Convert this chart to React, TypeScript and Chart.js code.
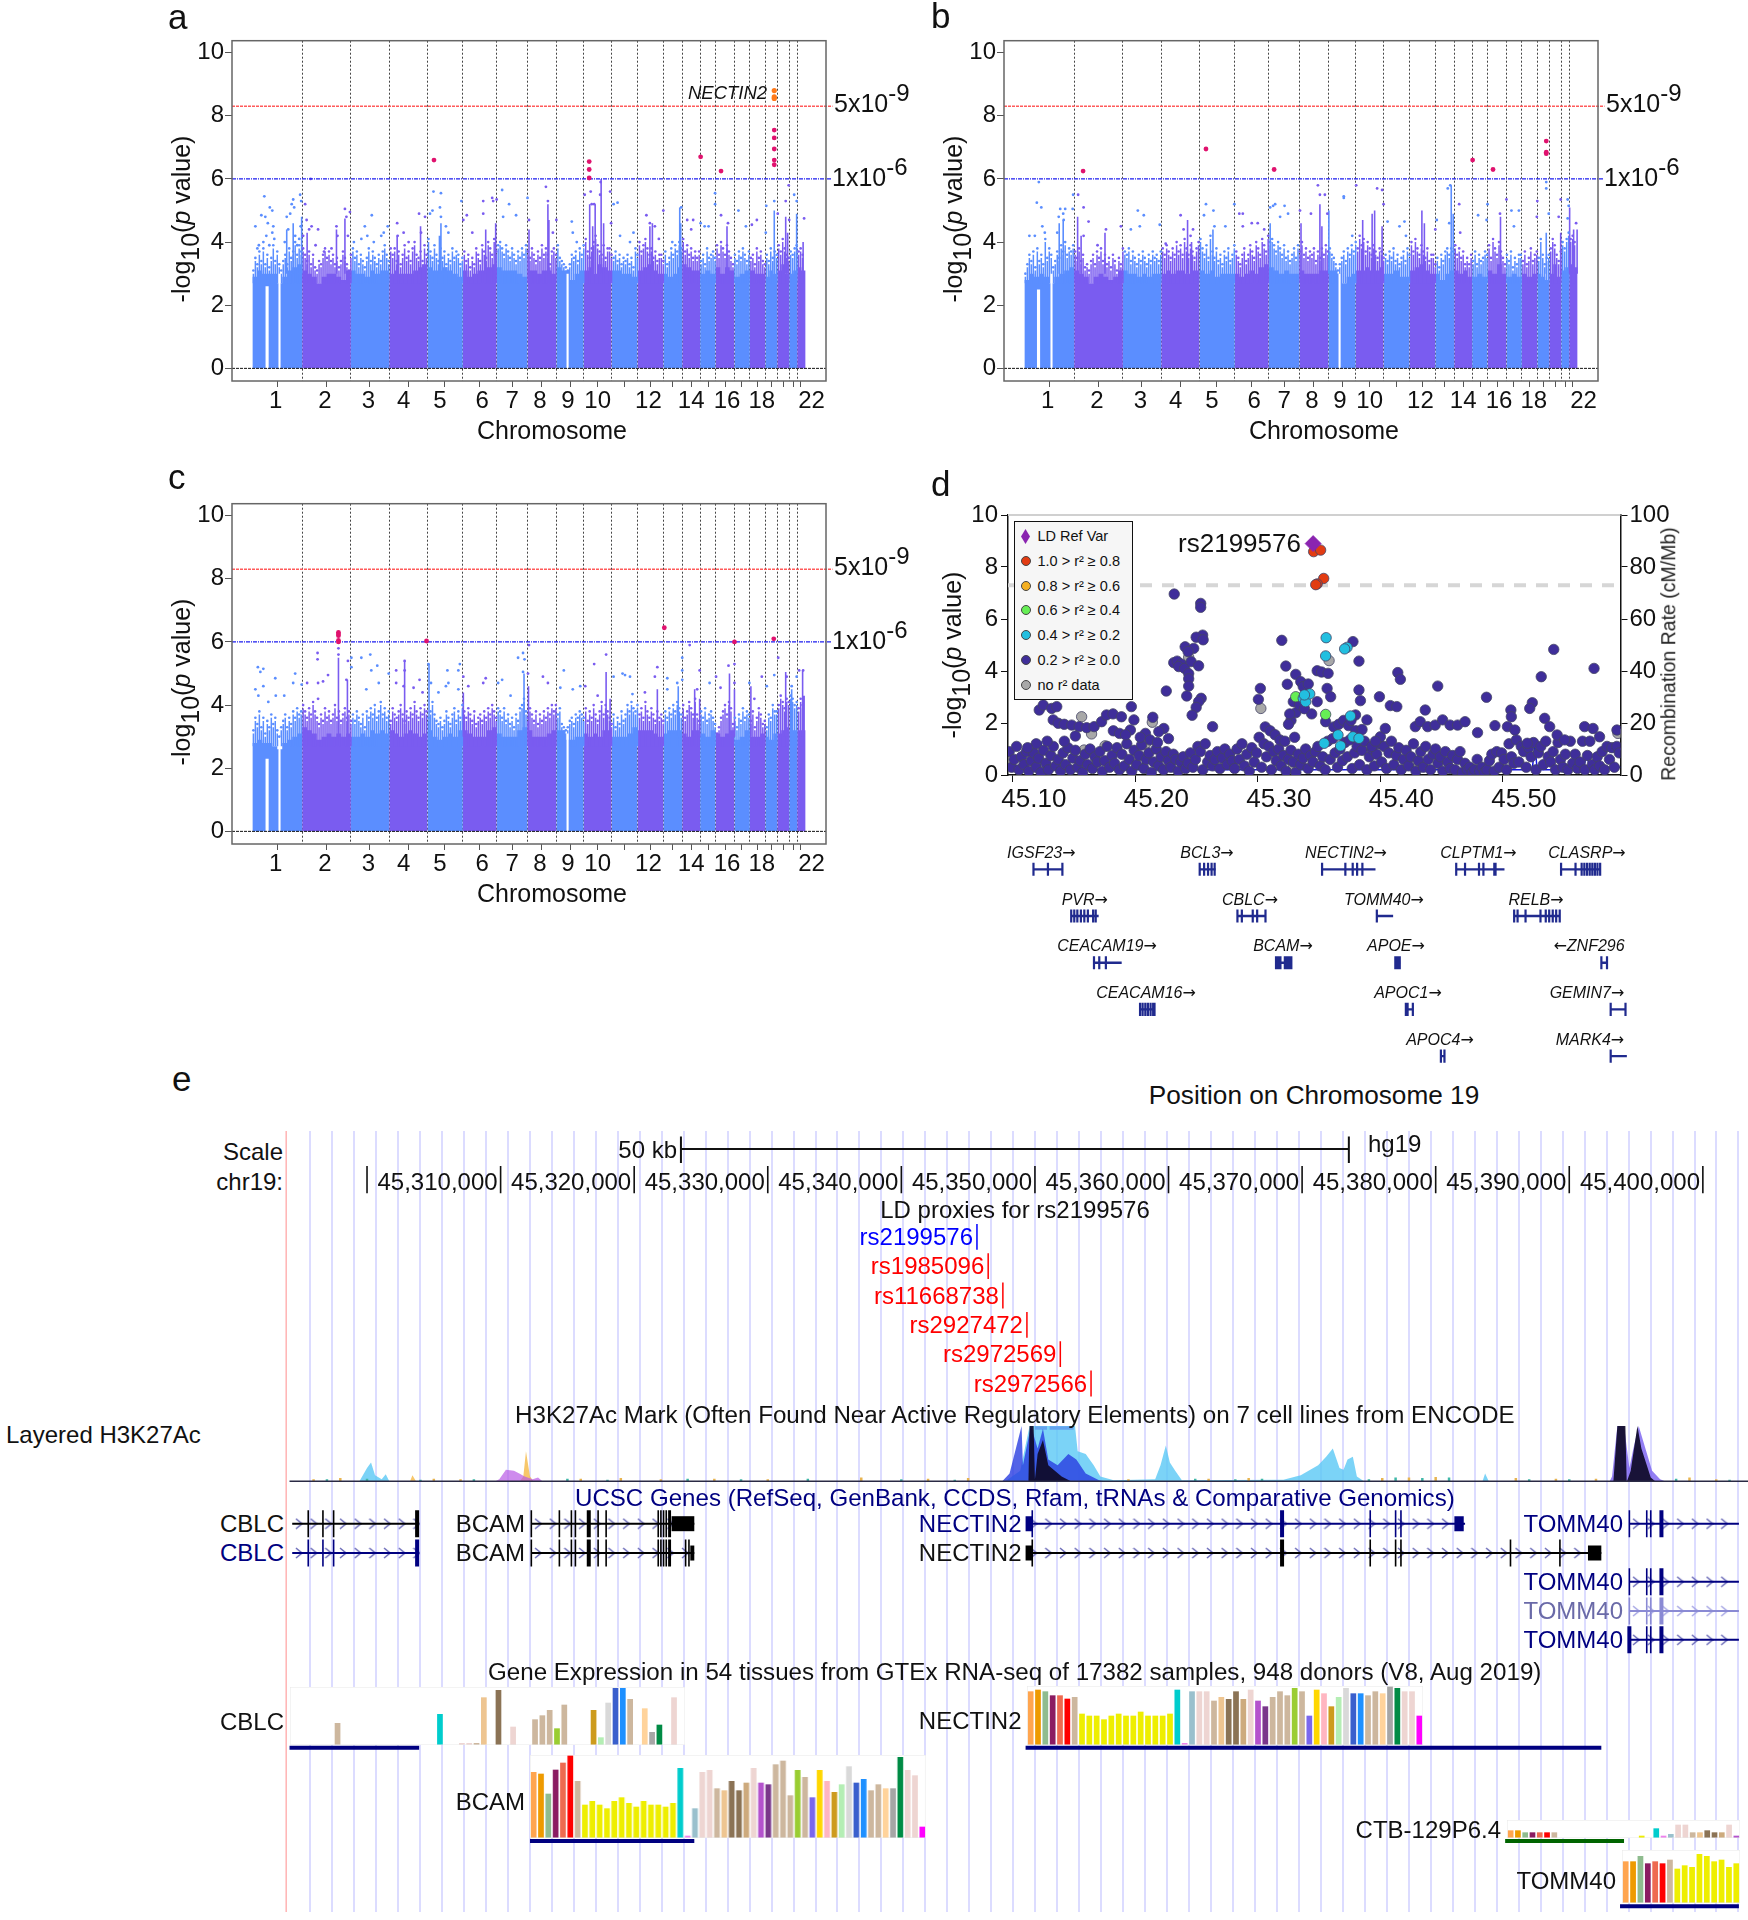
import React, { useEffect, useRef } from "react";
import { Chart, registerables } from "chart.js";
Chart.register(...registerables);

const FONT = "'Liberation Sans', Arial, sans-serif";
const BLUE = "#5b8eff";
const PURPLE = "#7a5cf0";
const PINK = "#e0126e";
const ORANGE = "#ff7a1a";

// ---------- Manhattan panels: x = genome bin (about 2.6 Mb each) ----------
const chromEnds = [286, 384, 461, 538, 609, 677, 739, 797, 852, 908, 960, 1012, 1050, 1086, 1117, 1155, 1186, 1217, 1241, 1265, 1281, 1298];
const chromStart = 186;
const tickBins = [237, 335, 422, 500, 573, 643, 708, 768, 825, 880, 934, 986, 1031, 1068, 1102, 1136, 1170, 1201, 1229, 1253, 1273, 1288];
const labelBins = [233, 332, 419, 490, 563, 648, 708, 764, 820, 880, 982, 1068, 1140, 1210, 1310];
const chromLabels = ["1", "2", "3", "4", "5", "6", "7", "8", "9", "10", "12", "14", "16", "18", "22"];
const yTicks = [0, 2, 4, 6, 8, 10];

const aFill = [
  [2.9, 3.1, 3.0, 3.0, 3.0, 2.7, 2.9, 3.1, 3.2, 3.3], [3.1, 3.0, 2.9, 2.7, 2.9, 3.0, 3.0, 2.9, 2.8, 3.1], [3.1, 3.0, 3.0, 2.9, 3.1, 3.0, 3.1, 3.1],
  [3.0, 3.1, 3.0, 3.0, 3.0, 3.1, 3.2, 3.3], [3.2, 3.1, 3.1, 3.2, 3.1, 3.0, 2.9], [3.1, 2.9, 3.0, 3.1, 3.1, 3.2, 3.3], [3.2, 3.1, 3.1, 3.1, 3.0, 2.9],
  [3.1, 3.1, 3.0, 3.1, 3.1, 3.0], [3.2, 3.1, 3.1, 2.8, 3.0, 3.1], [3.1, 3.2, 3.0, 3.3, 3.2, 3.1], [3.1, 3.1, 3.0, 3.0, 2.9], [3.1, 3.2, 3.3, 3.1, 3.0],
  [3.0, 2.9, 3.0, 3.2], [3.3, 3.2, 3.1, 3.1], [3.0, 3.1, 3.0], [3.2, 3.0, 3.2, 3.1], [2.9, 3.0, 3.1], [3.1, 3.0, 3.0], [2.9, 3.1, 3.0], [3.1, 3.3, 3.0], [3.0, 3.1], [3.2, 3.1],
];
const aSpeck = [31, 35, 33, 37, 34, 38, 33, 36, 32, 35, 39, 34, 37, 33, 31, 34, 36, 33, 38, 35, 37, 40, 36, 39, 37,
  38, 36, 34, 37, 33, 36, 32, 31, 34, 33, 36, 38, 35, 37, 34, 36, 33, 35, 32, 34, 37, 35, 33, 31, 36,
  38, 35, 37, 33, 36, 34, 32, 35, 38, 34, 37, 35, 33, 36, 34, 37, 39, 36, 34, 38,
  36, 38, 34, 37, 33, 36, 39, 35, 37, 34, 38, 40, 36, 35, 37, 34, 39, 36, 41,
  37, 35, 39, 36, 34, 38, 35, 37, 33, 36, 34, 38, 35, 37, 36, 33, 35,
  37, 34, 36, 32, 35, 33, 38, 36, 34, 39, 37, 35, 40, 38, 36, 41, 37, 39,
  40, 38, 36, 39, 37, 35, 38, 36, 34, 37, 35, 38, 36,
  39, 37, 35, 38, 36, 34, 37, 35, 39, 36, 38, 36, 33, 37,
  38, 36, 39, 35, 34, 33, 32, 31, 33, 36, 35, 37, 34, 38,
  36, 39, 41, 37, 35, 38, 40, 42, 39, 37, 36, 39, 35, 38,
  38, 36, 35, 37, 34, 36, 33, 35, 34, 36, 33, 35, 32,
  38, 36, 40, 37, 39, 41, 38, 36, 38, 35, 37, 34, 36,
  36, 34, 37, 33, 35, 38, 36, 39, 37,
  40, 38, 41, 37, 39, 36, 38, 35, 37,
  35, 37, 34, 36, 33, 38, 35, 36,
  37, 35, 39, 36, 40, 38, 36, 39, 37, 35,
  33, 36, 34, 37, 35, 38, 36, 34,
  37, 35, 36, 33, 38, 35, 37, 34,
  33, 36, 34, 38, 35, 37,
  36, 39, 37, 41, 38, 36,
  35, 37, 36, 38,
  39, 37, 38, 36];
const aStems = [[255, 4.4], [268, 4.6], [285, 4.8], [296, 4.3], [355, 4.4], [372, 4.75], [477, 4.2], [524, 4.5], [565, 4.6], [562, 4.2], [655, 4.4], [675, 4.6], [742, 4.4], [780, 5.2], [782, 4.7], [864, 5.2], [870, 4.5], [875, 5.2], [887, 6.0], [892, 4.6], [1045, 5.1], [1047, 4.6], [990, 4.6], [985, 4.5], [1140, 4.5], [1235, 5.0], [1258, 4.8], [1280, 4.9], [1293, 4.0], [1262, 4.3]];
const aDots = [[192, 4.5], [196, 3.8], [199, 3.9], [204, 4.85], [208, 4.0], [210, 5.45], [212, 4.8], [214, 4.2], [217, 4.6], [221, 5.1], [226, 5.0], [228, 4.5], [230, 4.1], [226, 4.3], [220, 3.9], [251, 4.0], [255, 4.8], [258, 4.4], [262, 4.9], [265, 5.2], [268, 5.35], [270, 5.1], [272, 4.2], [276, 3.9], [282, 5.5], [284, 5.3], [283, 4.5], [280, 4.1], [288, 4.2], [292, 5.2], [295, 4.7], [300, 4.4], [303, 6.0], [305, 4.5], [318, 4.4], [313, 3.9], [330, 3.7], [345, 3.8], [355, 4.5], [357, 4.2], [372, 5.05], [375, 4.8], [382, 4.95], [378, 4.2], [390, 4.0], [405, 4.1], [412, 4.5], [417, 4.2], [426, 4.85], [430, 4.0], [445, 4.2], [458, 4.5], [450, 4.3], [477, 4.6], [478, 4.2], [490, 4.3], [500, 4.0], [521, 4.9], [525, 4.3], [533, 4.8], [543, 4.9], [548, 5.0], [550, 5.6], [565, 5.55], [563, 5.1], [565, 4.8], [575, 4.5], [580, 4.3], [606, 5.3], [610, 4.7], [617, 4.85], [628, 4.3], [650, 5.3], [650, 4.9], [668, 5.4], [670, 5.3], [677, 5.35], [688, 5.65], [702, 5.2], [690, 4.8], [716, 4.85], [739, 5.4], [742, 4.7], [776, 5.75], [780, 5.3], [790, 4.3], [797, 4.7], [828, 4.65], [830, 4.3], [838, 4.0], [854, 5.5], [866, 5.6], [868, 5.2], [873, 5.2], [885, 5.5], [886, 5.9], [905, 5.6], [912, 5.2], [920, 5.25], [907, 4.6], [925, 4.2], [945, 4.0], [952, 4.3], [978, 4.85], [985, 4.6], [995, 4.5], [1012, 5.0], [1003, 4.1], [1030, 4.0], [1048, 5.1], [1060, 4.7], [1072, 4.7], [1068, 4.4], [1087, 4.6], [1095, 4.5], [1103, 4.5], [1116, 5.55], [1116, 5.2], [1128, 4.85], [1142, 4.6], [1163, 5.0], [1178, 4.5], [1190, 4.55], [1200, 4.7], [1219, 5.15], [1218, 4.3], [1235, 5.3], [1242, 4.9], [1258, 5.3], [1264, 5.8], [1265, 4.7], [1275, 5.5], [1280, 5.3], [1295, 4.75]];
const aHits = [[551, 6.6], [863, 6.55], [863, 6.3], [863, 6.03], [1087, 6.7], [1128, 6.25], [1235, 7.55], [1235, 7.3], [1235, 6.95], [1235, 6.6], [1235, 6.45]];
const aTop = [[1235, 8.8], [1235, 8.6], [1235, 8.55]];
const aGaps = [[212, 219, 2.6], [238, 243, 3.0], [817, 822, 3.0]];

const bFill = [
  [2.8, 3.0, 2.9, 3.0, 2.9, 2.7, 2.9, 3.0, 3.1, 3.2], [3.1, 3.0, 2.9, 2.7, 2.9, 3.0, 2.9, 2.8, 2.9, 3.1], [3.1, 3.0, 3.0, 2.9, 3.0, 2.9, 3.0, 3.0],
  [3.0, 3.1, 3.0, 3.1, 3.1, 3.0, 3.1, 3.1], [3.1, 3.0, 3.1, 2.9, 3.0, 3.0, 3.0], [3.0, 2.9, 3.0, 3.1, 3.0, 3.2, 3.3], [3.2, 3.1, 3.0, 3.1, 3.0, 3.0],
  [3.1, 3.0, 3.0, 3.0, 3.1, 3.1], [3.1, 3.1, 3.0, 2.7, 2.9, 3.0], [3.1, 3.1, 3.2, 3.1, 3.1, 3.2], [3.0, 3.0, 3.1, 2.9, 2.9], [3.1, 3.2, 3.3, 3.1, 3.0],
  [3.0, 2.8, 3.0, 3.1], [3.1, 3.0, 3.1, 2.9], [2.9, 3.0, 2.9], [3.1, 3.0, 3.3, 3.0], [2.9, 3.0, 2.9], [3.0, 2.9, 3.0], [3.0, 2.9, 2.8], [3.0, 3.3, 2.9], [3.1, 3.2], [3.3, 3.2],
];
const bSpeck = [30, 33, 36, 34, 37, 32, 38, 34, 36, 33, 41, 35, 38, 36, 32, 34, 37, 35, 39, 37, 40, 36, 38, 37, 39,
  37, 35, 38, 34, 36, 32, 33, 31, 34, 36, 33, 37, 35, 38, 34, 36, 33, 35, 32, 36, 34, 31, 35, 33, 38,
  37, 36, 38, 34, 37, 35, 33, 36, 34, 37, 35, 33, 36, 34, 37, 35, 36, 34, 37, 38,
  36, 39, 37, 35, 38, 36, 40, 37, 39, 36, 41, 38, 36, 39, 37, 35, 38, 40, 41,
  38, 36, 39, 35, 42, 37, 35, 38, 34, 36, 33, 37, 35, 38, 34, 36, 39,
  37, 35, 33, 36, 38, 34, 36, 39, 37, 35, 40, 38, 36, 41, 39, 37, 42, 40,
  41, 39, 37, 40, 38, 36, 39, 35, 37, 34, 36, 38, 35,
  39, 37, 40, 36, 38, 35, 37, 36, 38, 34, 37, 35, 38, 36,
  39, 37, 38, 36, 35, 33, 31, 33, 35, 37, 34, 38, 36, 39,
  37, 40, 38, 42, 39, 41, 37, 40, 38, 36, 39, 37, 35, 38,
  37, 35, 36, 34, 37, 35, 38, 34, 36, 33, 35, 37, 34,
  38, 36, 40, 37, 41, 38, 36, 39, 37, 35, 38, 34, 36,
  36, 33, 35, 32, 36, 34, 37, 38, 36,
  38, 37, 39, 36, 38, 35, 37, 33, 35,
  33, 36, 34, 37, 33, 36, 34, 35,
  37, 36, 39, 35, 41, 38, 36, 40, 37, 35,
  33, 36, 34, 37, 32, 35, 33, 36,
  36, 34, 37, 33, 35, 38, 34, 36,
  37, 35, 41, 36, 33, 35,
  36, 38, 41, 39, 36, 34,
  37, 40, 38, 41,
  43, 41, 42, 40];
const bStems = [[256, 4.6], [264, 4.7], [293, 4.8], [300, 4.2], [348, 4.3], [514, 4.7], [522, 4.0], [565, 4.4], [680, 4.6], [742, 4.6], [780, 5.2], [784, 4.5], [798, 5.0], [866, 4.7], [885, 4.9], [890, 5.0], [905, 4.5], [985, 5.0], [990, 4.6], [1044, 5.8], [1048, 4.9], [1143, 4.8], [1235, 4.3], [1264, 4.3], [1282, 5.1], [1290, 4.4], [1297, 4.4]];
const bDots = [[215, 5.9], [211, 5.25], [220, 5.1], [196, 4.2], [207, 4.2], [222, 4.5], [227, 4.3], [255, 4.8], [258, 5.05], [264, 4.9], [268, 5.05], [252, 4.3], [265, 4.7], [284, 5.5], [294, 5.5], [283, 5.05], [305, 5.1], [315, 4.65], [305, 4.2], [350, 4.4], [333, 3.9], [380, 4.5], [400, 4.4], [414, 5.0], [426, 4.85], [418, 4.5], [458, 4.55], [470, 3.95], [500, 4.85], [506, 4.4], [520, 4.2], [525, 4.4], [547, 4.85], [551, 5.2], [566, 5.0], [568, 4.5], [590, 4.5], [608, 5.2], [618, 4.9], [625, 4.9], [625, 4.5], [643, 4.6], [655, 4.6], [668, 4.4], [680, 5.1], [686, 5.15], [690, 5.2], [700, 4.8], [709, 5.15], [716, 4.9], [740, 5.0], [762, 4.9], [776, 5.8], [780, 5.5], [790, 5.5], [795, 4.9], [828, 5.4], [828, 5.45], [845, 4.2], [853, 5.8], [895, 5.7], [905, 5.65], [908, 5.2], [916, 4.65], [940, 4.5], [950, 4.65], [953, 4.2], [1012, 4.4], [1015, 4.7], [1037, 5.7], [1042, 5.8], [1060, 5.2], [1040, 4.6], [1062, 4.3], [1098, 4.85], [1117, 5.2], [1115, 4.7], [1155, 5.35], [1142, 4.9], [1165, 5.0], [1180, 5.0], [1170, 4.5], [1217, 5.3], [1216, 4.8], [1235, 5.9], [1235, 5.7], [1240, 4.9], [1264, 5.35], [1260, 4.8], [1278, 5.35], [1280, 5.15], [1278, 4.75], [1295, 4.6]];
const bHits = [[551, 6.95], [304, 6.25], [688, 6.3], [1087, 6.6], [1128, 6.3], [1235, 7.2], [1235, 6.85], [1235, 6.8]];
const bGaps = [[211, 218, 2.5], [238, 243, 3.0], [817, 822, 3.0]];

const cFill = [
  [2.8, 2.9, 2.8, 2.8, 2.7, 2.6, 2.8, 2.9, 3.0, 3.1], [3.3, 3.2, 3.1, 2.9, 3.0, 3.1, 3.0, 3.1, 3.0, 3.1], [3.0, 3.0, 3.1, 3.0, 3.2, 3.1, 3.2, 3.1],
  [3.2, 3.1, 3.0, 3.1, 3.2, 3.1, 3.0, 3.1], [3.2, 3.0, 2.9, 3.0, 3.1, 3.0, 3.2], [3.2, 3.1, 3.0, 3.0, 3.0, 3.2, 3.3], [3.1, 3.0, 3.0, 3.0, 3.2, 3.3],
  [3.2, 3.0, 3.0, 3.0, 3.1, 3.2], [3.2, 3.2, 2.9, 2.9, 3.0, 3.0], [3.1, 3.0, 3.1, 3.0, 3.2, 3.2], [3.0, 3.0, 3.0, 3.1, 3.3], [3.2, 3.2, 3.2, 3.1, 3.0],
  [3.1, 3.2, 3.2, 3.2], [3.1, 3.0, 3.2, 3.2], [3.1, 3.0, 3.2], [3.1, 3.0, 3.1, 3.2], [2.9, 3.0, 3.2], [3.0, 3.0, 3.1], [3.0, 2.9, 3.1], [3.1, 3.2, 3.3], [3.2, 3.2], [3.2, 3.2]];
const cSpeck = [32, 36, 34, 38, 33, 36, 31, 35, 33, 37, 34, 36, 32, 30, 33, 35, 37, 33, 36, 34, 38, 36, 39, 37, 38,
  40, 38, 36, 39, 37, 41, 38, 36, 34, 37, 35, 39, 36, 38, 35, 37, 40, 36, 38, 35, 37, 39, 36, 38, 35,
  37, 35, 38, 36, 34, 37, 33, 38, 36, 39, 37, 40, 36, 38, 41, 37, 39, 36, 38, 35,
  39, 37, 36, 38, 40, 37, 35, 38, 36, 39, 37, 41, 38, 36, 39, 37, 40, 38, 36,
  38, 41, 37, 35, 34, 36, 33, 35, 38, 36, 34, 37, 39, 35, 38, 36, 40,
  38, 36, 39, 37, 35, 38, 34, 36, 37, 35, 38, 36, 39, 37, 40, 38, 36, 39,
  38, 36, 39, 35, 37, 34, 36, 33, 37, 35, 39, 40, 42,
  38, 36, 39, 37, 35, 38, 34, 37, 35, 38, 36, 39, 37, 40,
  38, 40, 37, 39, 34, 33, 32, 33, 35, 36, 34, 37, 36, 38,
  37, 36, 39, 35, 38, 36, 40, 37, 35, 38, 41, 37, 40, 38,
  36, 34, 37, 33, 36, 34, 38, 35, 37, 40, 38, 41, 39,
  38, 40, 37, 39, 36, 41, 38, 36, 39, 37, 35, 38, 36,
  37, 35, 38, 36, 39, 37, 40, 38, 41,
  39, 37, 40, 36, 38, 41, 39, 37, 42,
  37, 35, 38, 36, 39, 35, 37, 38,
  36, 34, 31, 33, 36, 38, 40, 37, 41, 39,
  34, 36, 33, 37, 35, 39, 36, 38,
  37, 35, 38, 33, 36, 39, 37, 34,
  35, 33, 37, 36, 40, 38,
  38, 40, 43, 41, 39, 42,
  41, 43, 42, 40,
  41, 39, 42, 40];
const cStems = [[359, 5.5], [377, 4.8], [492, 5.4], [541, 5.3], [610, 4.4], [732, 5.0], [741, 4.6], [897, 5.05], [905, 4.2], [1000, 4.5], [1042, 4.6], [1075, 4.5], [1145, 5.0], [1155, 4.5], [1188, 4.6], [1258, 5.05], [1270, 4.5], [1292, 5.1], [1295, 4.3], [1085, 4.2]];
const cDots = [[192, 4.5], [197, 5.2], [202, 5.05], [208, 5.15], [208, 4.6], [198, 4.3], [218, 4.1], [232, 4.85], [233, 4.3], [250, 4.3], [268, 4.7], [272, 5.0], [285, 4.65], [296, 4.7], [317, 5.65], [317, 5.45], [318, 4.7], [328, 4.75], [338, 4.95], [318, 4.2], [359, 5.8], [359, 5.6], [375, 4.8], [378, 5.4], [385, 5.5], [385, 5.2], [405, 5.5], [423, 5.6], [425, 5.1], [437, 5.25], [440, 4.7], [415, 4.5], [460, 5.0], [475, 5.1], [475, 4.7], [492, 5.4], [492, 5.1], [490, 4.6], [510, 4.55], [522, 4.8], [528, 4.4], [540, 5.3], [545, 4.7], [560, 4.4], [575, 4.6], [578, 5.1], [580, 4.7], [600, 5.1], [603, 5.3], [600, 4.5], [610, 4.9], [620, 4.6], [650, 4.7], [655, 4.85], [680, 4.7], [688, 4.8], [705, 4.3], [720, 5.5], [730, 5.65], [733, 5.45], [730, 5.05], [740, 5.0], [742, 5.9], [770, 4.9], [780, 4.7], [805, 4.55], [812, 5.1], [830, 4.5], [845, 4.6], [855, 4.6], [873, 5.3], [880, 4.3], [897, 5.6], [912, 4.9], [930, 5.0], [935, 4.95], [945, 4.9], [950, 4.35], [975, 4.4], [1000, 5.2], [995, 4.9], [1020, 4.5], [1020, 4.85], [1040, 4.7], [1050, 5.5], [1050, 5.1], [1065, 5.9], [1050, 4.8], [1085, 5.1], [1080, 4.5], [1105, 4.7], [1118, 4.9], [1127, 4.55], [1143, 5.25], [1155, 5.3], [1155, 4.7], [1185, 4.7], [1195, 4.2], [1210, 4.9], [1220, 4.6], [1243, 5.5], [1235, 4.95], [1260, 4.9], [1280, 4.9], [1285, 5.1], [1293, 5.1], [1270, 4.6]];
const cHits = [[359, 6.3], [359, 6.25], [359, 6.2], [359, 6.05], [359, 6.0], [536, 6.03], [1014, 6.45], [1155, 6.0], [1234, 6.1]];
const cGaps = [[212, 219, 2.3], [238, 243, 3.0], [817, 822, 3.1]];

// ---------- Panel d: x = kb beyond 45.0 Mb ----------
const dTicksKb = [100, 200, 300, 400, 500];
const dLeft = [0, 2, 4, 6, 8, 10];
const dRight = [0, 20, 40, 60, 80, 100];
const dRef = [[345.1, 8.9]];
const dRed = [[345.5, 8.59], [351.2, 8.65], [353.7, 7.56], [348.4, 7.35], [347.2, 7.32]];
const dGreen = [[330.9, 3.01], [355.3, 2.33]];
const dCyan = [[355.7, 5.28], [355.3, 4.58], [372.8, 4.91], [370.8, 4.85], [337, 2.95], [339, 2.82], [342.3, 3.12], [338, 3.08], [354.1, 1.22], [367.5, 1.12], [365.4, 1.54], [377.6, 1.47], [382.5, 1.41], [375.6, 2.27]];
const dGray = [[358.1, 4.4], [302.4, 2.56], [156.1, 2.24], [164.2, 1.58], [158.1, 0.96], [175.2, 1.12], [213.8, 2.03], [208.1, 1.19], [243.5, 4.53], [431.3, 0.38], [593.9, 1.6], [328.9, 0.32]];
const dUpper = [[231.7, 6.96], [253.3, 6.6], [253.3, 6.45], [254.9, 5.38], [249.6, 5.3], [255.3, 5.2], [240.6, 4.93], [247.6, 4.87], [243, 4.75], [231.3, 4.32], [234.1, 4.38], [237.4, 4.27], [235.4, 4.17], [240.2, 4.1], [245.5, 4.36], [251.6, 4.2], [243.5, 3.9], [243.5, 3.7], [243.5, 3.42], [225.2, 3.23], [241.9, 3.04], [253.7, 2.95], [251.6, 2.82], [249.6, 2.6], [246.3, 2.3], [263, 1.86], [319.5, 5.18], [322.8, 4.19], [330.9, 3.87], [324, 3.49], [302, 3.33], [300.4, 2.91], [335, 3.59], [337, 3.4], [341.1, 3.5], [328.9, 2.82], [348.4, 4.01], [352, 3.96], [357.3, 3.91], [356.5, 3.33], [359.4, 3.01], [348.4, 2.82], [343.9, 2.35], [355.3, 2.05], [377.6, 5.13], [382.5, 4.38], [382.5, 3.27], [383.7, 2.86], [399.2, 3.01], [408.1, 2.67], [413.4, 2.63], [414.2, 3.94], [416.3, 3.68], [446.8, 3.42], [486.6, 2.99], [524, 2.78], [531.3, 3.78], [541.5, 4.83], [574.4, 4.1], [521.9, 2.56], [506.5, 2.5], [436.6, 2.5], [379.7, 2.31], [389, 2.12], [121.5, 2.5], [124.8, 2.69], [131.7, 2.56], [135.8, 2.63], [132.9, 2.12], [137, 1.99], [141.9, 1.95], [148, 1.92], [154.1, 1.86], [160.2, 1.82], [166.3, 1.86], [172.4, 2.05], [176.4, 2.31], [181.7, 2.35], [188.6, 2.24], [196.7, 2.63], [198.8, 2.12], [214.2, 2.22], [223.2, 1.79], [219.1, 1.67], [208.2, 1.6], [195.9, 1.73], [400, 1.47], [404, 1.79], [428.5, 1.86], [432.5, 2.05], [438.6, 1.86], [444.7, 1.92], [450.8, 2.12], [456.9, 1.92], [463, 1.92], [469.1, 2.05], [479.3, 1.63], [493.5, 1.9], [503.7, 1.86], [509.8, 1.73], [506.9, 2.24], [519.9, 1.22], [534.1, 2.18], [538.2, 1.86], [544.3, 1.54], [550.4, 1.35], [566.7, 1.86], [573.6, 1.79], [578.9, 1.47], [593.1, 1.73], [327, 2.1], [331, 2.4], [326, 2.35], [325, 1.95], [334, 2.7], [338, 2.55], [306, 1.85], [310, 1.7], [314, 1.55], [318, 1.35], [322, 1.3], [330, 1.45], [362, 1.85], [366, 1.95], [370, 2.1], [374, 1.9], [376, 2.1], [380, 1.7], [385, 1.75], [393, 1.1], [396, 1.3], [151, 1.5], [142, 1.3], [128, 1.3], [119, 1.2], [112, 1.05], [182, 1.7], [187, 1.6], [192, 1.55], [204, 1.45], [212, 1.35], [227, 1.4], [218, 1.25]];
const dLow = [[97, .9], [99, .3], [101, .6], [103, 1.1], [105, .2], [107, .7], [109, .4], [111, .9], [113, .15], [115, .55], [117, .85], [119, .3], [121, .65], [123, .1], [125, .95], [127, .45], [129, .2], [131, .75], [133, 1.1], [135, .35], [137, .6], [139, .15], [141, .85], [143, .4], [145, 1.05], [147, .2], [149, .65], [151, .95], [153, .3], [155, .55], [157, .1], [159, .8], [161, .4], [163, 1.0], [165, .25], [167, .7], [169, .5], [171, .9], [173, .15], [175, .55], [177, 1.1], [179, .3], [181, .75], [183, .45], [185, 1.05], [187, .2], [189, .8], [191, .35], [193, 1.2], [195, .6], [197, .15], [199, .95], [201, .4], [203, .75], [205, 1.15], [207, .25], [209, .6], [211, .85], [213, .1], [215, .5], [217, 1.0], [219, .35], [221, .7], [223, .2], [225, .9], [227, .55], [229, .3], [231, .8], [233, .6], [235, .15], [237, .5], [239, .7], [241, .25], [243, .45], [245, .85], [247, .3], [249, .6], [251, 1.1], [253, .9], [255, .2], [257, 1.2], [259, .5], [261, .75], [263, .35], [265, .6], [267, .9], [269, .25], [271, .65], [273, 1.0], [275, .4], [277, .8], [279, .55], [281, .25], [283, 1.0], [285, .6], [287, 1.2], [289, .35], [291, .8], [293, .15], [295, 1.05], [297, .5], [299, .85], [301, 1.45], [303, .3], [305, 1.2], [307, .7], [309, 1.1], [311, .2], [313, .9], [315, .55], [317, 1.0], [319, .35], [321, .75], [323, .15], [325, .6], [327, .95], [329, .5], [331, .1], [333, .8], [335, .4], [337, .65], [339, 1.0], [341, .25], [343, .75], [345, .5], [347, .9], [349, 1.1], [351, .35], [353, .7], [355, .2], [357, 1.3], [359, .6], [361, 1.4], [363, .85], [365, .3], [367, 1.0], [369, .55], [371, 1.25], [373, .7], [375, 1.35], [377, .25], [379, .85], [381, 1.1], [383, .4], [385, .95], [387, 1.3], [389, .2], [391, .7], [393, 1.0], [395, .35], [397, .8], [399, 1.2], [401, .5], [403, 1.1], [405, .25], [407, .85], [409, 1.3], [411, .4], [413, .75], [415, 1.05], [417, .2], [419, .6], [421, .95], [423, .35], [425, .7], [427, 1.2], [429, .15], [431, .55], [433, .9], [435, .3], [437, 1.1], [439, .6], [441, .2], [443, .8], [445, 1.0], [447, .45], [449, .7], [451, .15], [453, .9], [455, .5], [457, .25], [459, .75], [461, .2], [463, .6], [465, .9], [467, .1], [469, .45], [471, .2], [473, .3], [475, .1], [477, .2], [479, .6], [481, .15], [483, .3], [485, .1], [487, .2], [489, .55], [491, .8], [493, .15], [495, .9], [497, .3], [499, .85], [501, .6], [503, .2], [505, 1.2], [507, .7], [509, .45], [511, 1.35], [513, .5], [515, 1.1], [517, .9], [519, .3], [521, 1.05], [523, .7], [525, 1.25], [527, .2], [529, .85], [531, 1.1], [533, .4], [535, 1.3], [537, .7], [539, .5], [541, .9], [543, .2], [545, 1.25], [547, .6], [549, .3], [551, .8], [553, .2], [555, 1.3], [557, .45], [559, .8], [561, .25], [563, .5], [565, 1.3], [567, .2], [569, .75], [571, 1.3], [573, .4], [575, .2], [577, .7], [579, .35], [581, .9], [583, .2], [585, 1.1], [587, .6], [589, 1.05], [591, .3], [593, 1.1], [595, .85]];
const dRecomb = [[96, 2], [122, 2], [123, 13], [125, 2], [205, 2], [206, 5], [208, 2], [300, 2], [524, 2], [526, 12], [528, 2], [566, 2], [568, 8], [571, 3], [596, 3]];

const geneTrackD = [
  { name: "IGSF23→", labelX: 1041.4, row: 0, span: [116.8, 140.4], exons: [116.8, 128.6, 140.4] },
  { name: "BCL3→", labelX: 1207, row: 0, span: [252.5, 265.4], exons: [252.5, 256.1, 259.3, 262.2, 264.7] },
  { name: "NECTIN2→", labelX: 1346, row: 0, span: [352.4, 396], exons: [352.4, 371.4, 377.4, 381, 385.3] },
  { name: "CLPTM1→", labelX: 1478.5, row: 0, span: [461.9, 501.3], exons: [461.9, 469.1, 480.5, 484.1, 493, 494] },
  { name: "CLASRP→", labelX: 1587, row: 0, span: [547.5, 580], exons: [547.5, 559.3, 564.3, 566.5, 568.7, 570.9, 573, 575.1, 577.2, 579.4] },
  { name: "PVR→", labelX: 1084.8, row: 1, span: [147.6, 170], exons: [147.6, 150.1, 152.6, 155.5, 158.3, 161.2, 165.5, 167.6] },
  { name: "CBLC→", labelX: 1250, row: 1, span: [283.3, 306.2], exons: [283.3, 286.9, 295.8, 299.4, 306.2] },
  { name: "TOMM40→", labelX: 1384, row: 1, span: [397.1, 410.4], exons: [397.1] },
  { name: "RELB→", labelX: 1536, row: 1, span: [509.2, 546.4], exons: [509.2, 512, 518.5, 530.7, 535, 537.8, 540.7, 543.5, 546.4] },
  { name: "CEACAM19→", labelX: 1107, row: 2, span: [166.2, 188.8], exons: [166.2, 170.5, 175.9] },
  { name: "BCAM→", labelX: 1283, row: 2, span: [314.8, 327.3], exons: [314.8, 316.6, 318.4, 322, 323.8, 325.5, 327.3] },
  { name: "APOE→", labelX: 1396, row: 2, span: [412.2, 416.1], exons: [412.2, 413.4, 414.6, 415.8] },
  { name: "←ZNF296", labelX: 1589, row: 2, span: [580.4, 585], exons: [580.4, 585] },
  { name: "CEACAM16→", labelX: 1146, row: 3, span: [203.8, 215.6], exons: [203.8, 205.9, 208.1, 210.2, 212.4, 214.5, 215.6] },
  { name: "APOC1→", labelX: 1408, row: 3, span: [420.8, 426.5], exons: [420.8, 422.2, 426.5] },
  { name: "GEMIN7→", labelX: 1587, row: 3, span: [588, 600.1], exons: [588, 600.1] },
  { name: "APOC4→", labelX: 1440, row: 4, span: [449.4, 452.3], exons: [449.4, 452.3] },
  { name: "MARK4→", labelX: 1590, row: 4, span: [588, 601.2], exons: [588] },
];

// ---------- Panel e: x = kb beyond 45.0 Mb ----------
const rulerKb = [300, 310, 320, 330, 340, 350, 360, 370, 380, 390, 400];
const rulerLabels = ["45,310,000", "45,320,000", "45,330,000", "45,340,000", "45,350,000", "45,360,000", "45,370,000", "45,380,000", "45,390,000", "45,400,000"];
const proxies = [
  { id: "rs2199576", kb: 345.66, color: "#0000ff" }, { id: "rs1985096", kb: 346.5, color: "#ff0000" }, { id: "rs11668738", kb: 347.6, color: "#ff0000" },
  { id: "rs2927472", kb: 349.4, color: "#ff0000" }, { id: "rs2972569", kb: 351.9, color: "#ff0000" }, { id: "rs2972566", kb: 354.2, color: "#ff0000" },
];
const NAVY = "#000080";
const TOMM_EX = [394.5, 395.8, 396.1];
const ucscGenes = [
  { row: 13.39, color: "#000000", span: [294.4, 303.9], exons: [295.6, 296.7, 297.5], thick: [303.75], blocks: [] },
  { row: 14.39, color: NAVY, span: [294.4, 303.9], exons: [295.6, 296.7, 297.5], thick: [303.75], blocks: [] },
  { row: 13.39, color: "#000000", span: [312.3, 324.5], exons: [312.3, 314.4, 315.3, 315.6, 317.3, 317.9, 321.8, 322, 322.2, 322.4, 322.6, 322.7], thick: [316.6], blocks: [[322.8, 324.5]] },
  { row: 14.39, color: "#000000", span: [312.3, 324.5], exons: [312.3, 314.4, 315.3, 315.6, 317.3, 317.9, 321.8, 322, 322.2, 322.4, 322.6, 322.7, 323.85, 324.1], thick: [316.6], blocks: [[324.2, 324.5]] },
  { row: 13.39, color: NAVY, span: [349.4, 382.2], exons: [349.8, 375.1, 377, 377.4], thick: [368.5], blocks: [[349.3, 349.8], [381.4, 382.1]] },
  { row: 14.39, color: "#000000", span: [349.4, 392.4], exons: [349.8, 375.1, 377, 377.4, 385.6, 389.3], thick: [368.5], blocks: [[349.3, 349.8], [391.4, 392.4]] },
  { row: 13.39, color: NAVY, span: [394.5, 402.7], exons: TOMM_EX, thick: [396.9], blocks: [] },
  { row: 15.37, color: NAVY, span: [394.5, 402.7], exons: TOMM_EX, thick: [396.9], blocks: [] },
  { row: 16.37, color: "#8a8ad4", span: [394.5, 402.7], exons: TOMM_EX, thick: [396.9], blocks: [] },
  { row: 17.35, color: NAVY, span: [394.5, 402.7], exons: [395.8, 396.1], thick: [394.5, 396.9], blocks: [] },
];
const geneBars = [
  { row: 21.03, kb: [294.2, 303.9], color: NAVY }, { row: 24.21, kb: [312.2, 324.5], color: NAVY }, { row: 21.03, kb: [349.3, 392.4], color: NAVY },
  { row: 24.21, kb: [385.2, 394.1], color: "#006400" }, { row: 26.43, kb: [393.8, 402.7], color: NAVY },
];

const acLightBlue = [[299.4, 0], [300, 25], [300.3, 35], [300.6, 12], [301.1, 5], [301.4, 14], [301.7, 0], [347.7, 0], [348.9, 20], [349.6, 100], [353, 100], [353.2, 55], [353.8, 50], [354.4, 30], [354.9, 10], [355.9, 3], [359, 5], [359.4, 30], [359.8, 65], [360.1, 35], [360.5, 20], [361, 3], [368.6, 4], [369.9, 12], [371.2, 30], [371.8, 45], [372.3, 60], [372.8, 25], [373.1, 22], [373.4, 40], [373.8, 45], [374.1, 10], [374.6, 2], [383.5, 1], [383.7, 15], [384, 0]];
const acBlue = [[347.5, 0], [348.1, 15], [349, 100], [349.1, 30], [349.7, 100], [350.2, 60], [350.6, 95], [351, 40], [351.7, 30], [352.5, 50], [353.1, 40], [353.8, 15], [354.8, 3], [355.5, 0]];
const acViolet = [[393, 0], [393.2, 10], [393.6, 100], [394.1, 100], [394.5, 25], [394.8, 60], [395.2, 100], [395.7, 60], [396.2, 20], [396.8, 5], [397.3, 0]];
const acBlack = [[349.5, 0], [349.6, 100], [349.9, 100], [350, 5], [350.2, 50], [350.6, 75], [351, 30], [352, 10], [352.8, 0], [393.3, 0], [393.6, 100], [394.2, 100], [394.3, 0], [394.6, 20], [395.1, 100], [395.4, 60], [396.1, 8], [396.5, 0]];
const acOrange = [[303.2, 0], [303.4, 12], [303.7, 0], [311.4, 0], [311.7, 10], [311.9, 55], [312.2, 10], [312.5, 0]];
const acMagenta = [[309.5, 0], [309.9, 5], [310.4, 22], [311, 20], [311.4, 15], [311.8, 10], [312.4, 5], [312.8, 8], [313.2, 0]];
const acBase = [[294.2, 1], [403.38, 1]];
const acSpecks = [[296, 5], [298, 7], [305, 6], [307, 5], [316, 6], [319, 7], [322, 5], [326, 6], [330, 5], [337, 8], [342, 6], [345, 7], [357, 5], [363, 6], [366, 7], [376, 7], [378, 8], [380, 9], [386, 7], [389, 6], [392, 6], [399, 8], [401, 5]];
const acTealSpecks = [[297, 5], [300, 6], [304, 4], [308, 5], [315, 6], [318, 4], [324, 6], [328, 5], [333, 6], [340, 5], [344, 4], [362, 6], [365, 5], [367, 6], [375, 5], [377, 8], [379, 7], [381, 8], [387, 5], [390, 5], [398, 6], [402, 4]];

const gtexColors = ["#FFA54F", "#EE9A00", "#8FBC8F", "#8B1C62", "#EE6A50", "#FF0000", "#CDB79E", "#EEEE00", "#EEEE00", "#EEEE00", "#EEEE00", "#EEEE00", "#EEEE00", "#EEEE00", "#EEEE00", "#EEEE00", "#EEEE00", "#EEEE00", "#EEEE00", "#EEEE00", "#00CDCD", "#EE82EE", "#9AC0CD", "#EED5D2", "#EED5D2", "#CDB79E", "#EEC591", "#8B7355", "#8B7355", "#CDAA7D", "#EED5D2", "#B452CD", "#7A378B", "#CDB79E", "#CDB79E", "#CDB79E", "#9ACD32", "#CDB79E", "#7A67EE", "#FFD700", "#FFB6C1", "#CD9B1D", "#B4EEB4", "#D9D9D9", "#3A5FCD", "#1E90FF", "#CDB79E", "#CDB79E", "#FFD39B", "#A6A6A6", "#008B45", "#EED5D2", "#EED5D2", "#FF00FF"];
const exprCBLC = [0, 0, 0, 0, 0, 0, 66, 0, 0, 0, 0, 0, 0, 0, 0, 0, 0, 0, 0, 0, 93, 0, 0, 6, 6, 6, 143, 0, 165, 0, 55, 0, 0, 77, 89, 105, 50, 121, 0, 0, 0, 105, 23, 127, 171, 171, 138, 0, 110, 39, 61, 0, 143, 0];
const exprBCAM = [198, 193, 133, 205, 226, 248, 171, 100, 111, 100, 89, 111, 122, 105, 94, 111, 100, 100, 94, 105, 210, 7, 89, 198, 204, 149, 143, 171, 143, 166, 210, 166, 161, 221, 232, 128, 204, 183, 122, 204, 171, 138, 161, 215, 166, 177, 143, 161, 149, 149, 243, 204, 188, 34];
const exprNECTIN2 = [161, 166, 161, 149, 149, 139, 144, 94, 88, 88, 77, 88, 94, 88, 88, 100, 88, 88, 88, 94, 166, 6, 161, 161, 161, 133, 144, 138, 161, 138, 166, 133, 116, 144, 161, 149, 171, 161, 88, 166, 155, 116, 144, 171, 155, 155, 149, 161, 155, 176, 171, 161, 161, 88];
const exprCTB = [23, 23, 17, 17, 17, 17, 17, 0, 0, 0, 0, 0, 0, 0, 0, 0, 0, 0, 7, 0, 29, 7, 12, 40, 40, 17, 17, 23, 17, 17, 40, 7];
const exprTOMM40 = [125, 125, 141, 119, 125, 119, 130, 103, 113, 108, 147, 141, 125, 130, 108, 119];

// ---------- helpers ----------
type Pt = number[];
const pts = (a: Pt[]) => a.map(([x, y]) => ({ x, y }));
const segs = (a: number[][]) => a.flatMap(([x1, y1, x2, y2]) => [{ x: x1, y: y1 }, { x: x2, y: y2 }, { x: x2, y: null as any }]);
const chromIndex = (x: number) => { const i = chromEnds.findIndex((e) => x <= e); return i < 0 ? 21 : i; };
const chromColor = (x: number) => (chromIndex(x) % 2 === 0 ? BLUE : PURPLE);
const kbToPx = (k: number) => 367 + (k - 300) * 13.36;
const setTicks = (vals: number[]) => (s: any) => { s.ticks = vals.map((value) => ({ value })); };
const fixW = (w: number) => (s: any) => { s.width = w; };
const fixH = (h: number) => (s: any) => { s.height = h; };

const framePlugin = {
  id: "frame",
  afterDraw(chart: any, _a: any, o: any) {
    if (!o || !o.color) return;
    const { left, top, right, bottom } = chart.chartArea;
    const c = chart.ctx;
    c.save(); c.strokeStyle = o.color; c.lineWidth = o.width || 1;
    c.strokeRect(left, top, right - left, bottom - top); c.restore();
  },
};

function manhattanConfig(fill: number[][], speck: number[], stems: Pt[], dots: Pt[], hits: Pt[], top: Pt[], gaps: number[][], topPad: number) {
  const xMin = 145, xMax = 1339;
  const ds: any[] = [];
  const line = (y: number, color: string, dash: number[], w: number, end: number) => ({
    type: "line", data: pts([[xMin, y], [end, y]]), borderColor: color, borderWidth: w, borderDash: dash, pointRadius: 0, clip: false, order: 2,
  });
  fill.forEach((vals, i) => {
    const s = i === 0 ? chromStart : chromEnds[i - 1];
    const e = chromEnds[i];
    const data = [{ x: s, y: vals[0] }, ...vals.map((y, j) => ({ x: s + ((j + 0.5) * (e - s)) / vals.length, y })), { x: e, y: vals[vals.length - 1] }];
    ds.push({ type: "line", data, stepped: "middle", fill: "origin", backgroundColor: i % 2 === 0 ? BLUE : PURPLE, borderWidth: 0, pointRadius: 0, order: 7 });
  });
  const speckPts = speck.map((v, i) => [chromStart + 2 + i * 4, v / 10]);
  [BLUE, PURPLE].forEach((col) => {
    const teeth = speckPts.filter(([x]) => chromColor(x) === col).map(([x, y]) => [x, 2.7, x, y - 0.1]);
    ds.push({ type: "line", data: segs(teeth), borderColor: col, borderWidth: 1.5, pointRadius: 0, order: 6 });
  });
  gaps.forEach(([a, b, h]) => ds.push({ type: "line", data: pts([[a, h], [b, h]]), fill: "origin", backgroundColor: "#ffffff", borderWidth: 0, pointRadius: 0, order: 5 }));
  [BLUE, PURPLE].forEach((col) => {
    const list = stems.filter(([x]) => chromColor(x) === col).map(([x, y]) => [x, 3, x, y]);
    ds.push({ type: "line", data: segs(list), borderColor: col, borderWidth: 1.6, pointRadius: 0, order: 4 });
  });
  ds.push({ type: "scatter", data: pts(speckPts), pointRadius: 1.3, pointBorderWidth: 0, pointBackgroundColor: speckPts.map(([x]) => chromColor(x)), order: 3 });
  ds.push({ type: "scatter", data: pts(dots), pointRadius: 1.4, pointBorderWidth: 0, pointBackgroundColor: dots.map(([x]) => chromColor(x)), order: 3 });
  ds.push(line(8.3, "#ff5a5a", [3, 1], 1.5, 1352));
  ds.push(line(6, "#1c1cf0", [4, 1, 1, 1], 1.2, 1350));
  ds.push(line(0, "#111111", [3, 1], 1, xMax));
  ds.push({ type: "scatter", data: pts(hits), pointRadius: 2.4, pointBorderWidth: 0, pointBackgroundColor: PINK, order: 1 });
  ds.push({ type: "scatter", data: pts(top), pointRadius: 2.6, pointBorderWidth: 0, pointBackgroundColor: ORANGE, order: 0 });
  return {
    type: "scatter",
    data: { datasets: ds },
    plugins: [framePlugin],
    options: {
      animation: false, responsive: false,
      layout: { autoPadding: false, padding: { top: topPad, right: 54 } },
      plugins: { legend: { display: false }, tooltip: { enabled: false }, frame: { color: "#666666", width: 1.5 } },
      scales: {
        x: {
          type: "linear", min: xMin, max: xMax, position: "bottom", afterBuildTicks: setTicks(chromEnds.slice(0, 21)), afterFit: fixH(0),
          ticks: { display: false }, border: { display: false, dash: [2, 2] }, grid: { color: "#444444", lineWidth: 1, drawTicks: false },
        },
        xt: {
          type: "linear", min: xMin, max: xMax, position: "bottom", afterBuildTicks: setTicks(tickBins), afterFit: fixH(6),
          ticks: { display: false }, border: { display: false }, grid: { drawOnChartArea: false, drawTicks: true, tickLength: 6, color: "#555555" },
        },
        xl: {
          type: "linear", min: xMin, max: xMax, position: "bottom", afterBuildTicks: setTicks(labelBins), afterFit: fixH(63),
          border: { display: false }, grid: { display: false },
          ticks: { autoSkip: false, maxRotation: 0, padding: -8, color: "#111111", font: { family: FONT, size: 24 }, callback: (_v: any, i: number) => chromLabels[i] },
        },
        y: {
          type: "linear", min: -0.4, max: 10.38, afterBuildTicks: setTicks(yTicks), afterFit: fixW(72),
          border: { display: false }, grid: { drawOnChartArea: false, tickLength: 7, color: "#555555" },
          ticks: { padding: 1, color: "#111111", font: { family: FONT, size: 24 }, callback: (v: any) => String(v) },
        },
      },
    },
  };
}

function dConfig() {
  const dot = (data: Pt[], color: string, order: number, extra: any = {}) => ({
    type: "scatter", data: pts(data), pointRadius: 5.2, pointBackgroundColor: color, pointBorderColor: "#444466", pointBorderWidth: 0.8, order, ...extra,
  });
  return {
    type: "scatter",
    data: {
      datasets: [
        { type: "line", yAxisID: "y2", data: pts(dRecomb), borderColor: "#1414e0", borderWidth: 1.5, pointRadius: 0, order: 9 },
        { type: "line", data: pts([[96, 7.3], [596, 7.3]]), borderColor: "#d6d6d6", borderWidth: 4, borderDash: [12, 10], pointRadius: 0, order: 8 },
        { type: "line", data: pts([[96, 10], [596, 10]]), borderColor: "#d0d0d0", borderWidth: 2, pointRadius: 0, clip: false, order: 8 },
        dot(dGray, "#a8a8a8", 7),
        dot(dLow, "#3f2e9a", 6),
        dot(dUpper, "#3f2e9a", 5),
        dot(dGreen, "#66ee55", 4),
        dot(dCyan, "#22bfe0", 3),
        dot(dRed, "#e23c12", 2),
        dot(dRef, "#8a24b0", 1, { pointStyle: "rectRot", pointRadius: 8, pointBorderColor: "#8a24b0" }),
      ],
    },
    options: {
      animation: false, responsive: false,
      layout: { autoPadding: false, padding: { top: 55 } },
      plugins: { legend: { display: false }, tooltip: { enabled: false } },
      scales: {
        x: {
          type: "linear", min: 96, max: 596, afterBuildTicks: setTicks(dTicksKb), afterFit: fixH(35),
          border: { color: "#111111", width: 1.5 }, grid: { drawOnChartArea: false, tickLength: 7, color: "#111111" },
          ticks: { autoSkip: false, maxRotation: 0, padding: 2, labelOffset: 21, color: "#111111", font: { family: FONT, size: 26 }, callback: (v: number) => (45 + v / 1000).toFixed(2) },
        },
        y: {
          type: "linear", min: 0, max: 10, afterBuildTicks: setTicks(dLeft), afterFit: fixW(78),
          border: { color: "#111111", width: 1.5 }, grid: { drawOnChartArea: false, tickLength: 7, color: "#111111" },
          ticks: { padding: 3, color: "#111111", font: { family: FONT, size: 24 }, callback: (v: any) => String(v) },
        },
        y2: {
          type: "linear", position: "right", min: 0, max: 100, afterBuildTicks: setTicks(dRight), afterFit: fixW(69.5),
          border: { color: "#111111", width: 1.5 }, grid: { drawOnChartArea: false, tickLength: 7, color: "#111111" },
          ticks: { padding: 2, color: "#111111", font: { family: FONT, size: 24 }, callback: (v: any) => String(v) },
        },
      },
    },
  };
}

function dGenesConfig() {
  const NAVYD = "#202a8e";
  return {
    type: "line",
    data: {
      datasets: [
        { data: segs(geneTrackD.map((g) => [g.span[0], g.row, g.span[1], g.row])), borderColor: NAVYD, borderWidth: 2.4, pointRadius: 0 },
        { data: segs(geneTrackD.flatMap((g) => g.exons.map((e) => [e, g.row - 0.14, e, g.row + 0.14]))), borderColor: NAVYD, borderWidth: 2.2, pointRadius: 0 },
      ],
    },
    options: {
      animation: false, responsive: false,
      layout: { autoPadding: false },
      plugins: { legend: { display: false }, tooltip: { enabled: false } },
      scales: {
        x: { type: "linear", display: false, min: 96, max: 610.3 },
        y: { type: "linear", display: false, min: -0.414, max: 4.405, reverse: true },
      },
    },
  };
}

function chevronCanvas(color: string) {
  const c = document.createElement("canvas");
  c.width = 8; c.height = 12;
  const x = c.getContext("2d")!;
  x.strokeStyle = color; x.lineWidth = 1.5;
  x.beginPath(); x.moveTo(1, 1); x.lineTo(7, 6); x.lineTo(1, 11); x.stroke();
  return c;
}

function eMainConfig() {
  const ds: any[] = [];
  const L = (data: any[], color: string, w: number, extra: any = {}) => ds.push({ data, borderColor: color, borderWidth: w, pointRadius: 0, ...extra });
  L(pts([[293.95, 0], [293.95, 26.63]]), "#ffb4b4", 1.5);
  L(segs([[323.5, 0.61, 373.5, 0.61], [323.5, 0.19, 323.5, 1.09], [373.5, 0.19, 373.5, 1.09]]), "#111111", 2);
  L(segs(rulerKb.map((k) => [k, 1.19, k, 2.12])), "#111111", 1.6);
  proxies.forEach((p, i) => L(segs([[p.kb, 3.17 + i, p.kb, 4.05 + i]]), p.color, 1.5));
  L(segs([[350, 10.13, 350.9, 10.13], [351.1, 10.13, 352.9, 10.13]]), "#8a10d0", 3.5);
  geneBars.forEach((b) => L(segs([[b.kb[0], b.row, b.kb[1], b.row]]), b.color, 4));
  ucscGenes.forEach((g) => {
    L(segs([[g.span[0], g.row, g.span[1], g.row]]), g.color, 2);
    L(segs(g.exons.map((e) => [e, g.row - 0.46, e, g.row + 0.46])), g.color, 1.6);
    L(segs(g.thick.map((e) => [e, g.row - 0.46, e, g.row + 0.46])), g.color, 4);
    L(segs(g.blocks.map(([a, b]) => [a, g.row, b, g.row])), g.color, 15);
    const chev: any[] = [];
    for (let k = g.span[0] + 0.5; k < g.span[1]; k += 1.1) chev.push({ x: k, y: g.row });
    const col = g.color === "#8a8ad4" ? "#a6a6e4" : "#6a6ab8";
    ds.push({ data: chev, showLine: false, pointStyle: chevronCanvas(col), pointRadius: 5 });
  });
  return {
    type: "line",
    data: { datasets: ds },
    options: {
      animation: false, responsive: false,
      layout: { autoPadding: false },
      plugins: { legend: { display: false }, tooltip: { enabled: false } },
      scales: {
        x: {
          type: "linear", min: 293.86, max: 403.38, afterFit: fixH(0), position: "top",
          afterBuildTicks: (s: any) => { const t = []; for (let k = 295.74; k < 403.38; k += 1.645) t.push({ value: k }); s.ticks = t; },
          ticks: { display: false }, border: { display: false }, grid: { color: "#dcdcff", lineWidth: 2, drawTicks: false },
        },
        y: { type: "linear", display: false, min: 0, max: 26.63, reverse: true },
      },
    },
  };
}

function eAcConfig() {
  const area = (data: Pt[], color: string) => ({ data: pts(data), fill: "origin", backgroundColor: color, borderWidth: 0, pointRadius: 0 });
  return {
    type: "line",
    data: {
      datasets: [
        { data: pts(acBase), borderColor: "#2a2a44", borderWidth: 2, pointRadius: 0 },
        { data: segs(acSpecks.map(([x, y]) => [x, 0, x, y])), borderColor: "#e8b450", borderWidth: 2.5, pointRadius: 0 },
        { data: segs(acTealSpecks.map(([x, y]) => [x, 0, x, y])), borderColor: "#40b8a8", borderWidth: 2.5, pointRadius: 0 },
        area(acBlack, "rgba(15,10,40,0.92)"),
        area(acBlue, "rgba(40,60,225,0.8)"),
        area(acViolet, "rgba(120,95,240,0.8)"),
        area(acMagenta, "rgba(185,90,230,0.7)"),
        area(acOrange, "rgba(245,185,70,0.8)"),
        area(acLightBlue, "rgba(90,200,245,0.8)"),
      ],
    },
    options: {
      animation: false, responsive: false,
      layout: { autoPadding: false },
      plugins: { legend: { display: false }, tooltip: { enabled: false } },
      scales: {
        x: { type: "linear", display: false, min: 293.86, max: 403.38 },
        y: { type: "linear", display: false, min: 0, max: 100 },
      },
    },
  };
}

function exprConfig(values: number[], h: number) {
  return {
    type: "bar",
    data: {
      labels: values.map((_, i) => String(i)),
      datasets: [{ data: values, backgroundColor: values.map((_, i) => gtexColors[i]), barPercentage: 0.78, categoryPercentage: 1 }],
    },
    plugins: [framePlugin],
    options: {
      animation: false, responsive: false,
      layout: { autoPadding: false },
      plugins: { legend: { display: false }, tooltip: { enabled: false }, frame: { color: "#e8e8e8", width: 1 } },
      scales: {
        x: { display: false, type: "category" },
        y: { display: false, min: 0, max: h * 3 },
      },
    },
  };
}

function ChartCanvas({ make, left, top, width, height, bg }: any) {
  const ref = useRef<HTMLCanvasElement>(null);
  useEffect(() => {
    const chart = new Chart(ref.current as any, make());
    return () => chart.destroy();
  }, []);
  return <canvas ref={ref} width={width} height={height} style={{ position: "absolute", left, top, width, height, background: bg, display: "block" }} />;
}

function T({ x, y, a = "left", size = 24, color = "#111", italic, rot, children }: any) {
  const tx = a === "left" ? "0" : a === "right" ? "-100%" : "-50%";
  return (
    <div style={{
      position: "absolute", left: x, top: y, whiteSpace: "nowrap", fontFamily: FONT, fontSize: size, color, lineHeight: 1, fontStyle: italic ? "italic" : "normal",
      transform: `translate(${tx},-50%)${rot ? ` rotate(${rot}deg)` : ""}`,
    }}>{children}</div>
  );
}

const YLabel = ({ x, y }: any) => (
  <T x={x} y={y} a="center" rot={-90} size={25}>-log<span style={{ position: "relative", top: 9, fontSize: 25 }}>10</span>(<i>p</i> value)</T>
);
const Sci = ({ x, y, base, exp }: any) => (
  <T x={x} y={y} size={25}>{base}<span style={{ position: "relative", top: -11, fontSize: 24 }}>{exp}</span></T>
);
const GeneName = ({ name }: any) => {
  const parts = name.split(/([→←])/);
  return <>{parts.map((p: string, i: number) => (p === "→" || p === "←" ? <span key={i} style={{ fontFamily: "'DejaVu Sans'", fontStyle: "normal", fontSize: 16 }}>{p}</span> : p))}</>;
};

const legendRows = [
  { label: "1.0 > r² ≥ 0.8", y: 561, color: "#e23c12" }, { label: "0.8 > r² ≥ 0.6", y: 585.7, color: "#f5b020" }, { label: "0.6 > r² ≥ 0.4", y: 610, color: "#66ee55" },
  { label: "0.4 > r² ≥ 0.2", y: 635, color: "#22bfe0" }, { label: "0.2 > r² ≥ 0.0", y: 660, color: "#3f2e9a" }, { label: "no r² data", y: 684.7, color: "#a8a8a8" },
];

function ManhattanText({ dx, dy, sig }: any) {
  return (
    <>
      <YLabel x={181 + dx} y={219 + dy} />
      <T x={552 + dx} y={430 + dy} a="center" size={25}>Chromosome</T>
      <Sci x={834 + dx} y={103 + dy} base="5x10" exp="-9" />
      <Sci x={832 + dx} y={177 + dy} base="1x10" exp="-6" />
      {sig}
    </>
  );
}

export default function App() {
  return (
    <div style={{ position: "absolute", left: 0, top: 0, width: 1748, height: 1920, overflow: "hidden", background: "#fff" }}>
      <ChartCanvas make={() => manhattanConfig(aFill, aSpeck, aStems, aDots, aHits, aTop, aGaps, 40.7)} left={160} top={0} width={720} height={450} />
      <ChartCanvas make={() => manhattanConfig(bFill, bSpeck, bStems, bDots, bHits, [], bGaps, 40.7)} left={932} top={0} width={720} height={450} />
      <ChartCanvas make={() => manhattanConfig(cFill, cSpeck, cStems, cDots, cHits, [], cGaps, 40.7)} left={160} top={463} width={720} height={450} />
      <ChartCanvas make={dConfig} left={930} top={460} width={760} height={350} />
      <ChartCanvas make={dGenesConfig} left={1008} top={850} width={630} height={225} />
      <ChartCanvas make={eMainConfig} left={285} top={1131} width={1463} height={781} />
      <ChartCanvas make={eAcConfig} left={285} top={1426} width={1463} height={56} />
      <ChartCanvas make={() => exprConfig(exprCBLC, 58)} left={289.6} top={1687} width={395} height={58} bg="#fff" />
      <ChartCanvas make={() => exprConfig(exprBCAM, 83)} left={530.3} top={1755} width={395.7} height={83} bg="#fff" />
      <ChartCanvas make={() => exprConfig(exprNECTIN2, 59)} left={1026.6} top={1686} width={396.2} height={59} bg="#fff" />
      <ChartCanvas make={() => exprConfig(exprCTB, 18)} left={1507} top={1820} width={233} height={18} bg="#fff" />
      <ChartCanvas make={() => exprConfig(exprTOMM40, 53)} left={1622} top={1850} width={118} height={53} bg="#fff" />

      <T x={168} y={16} size={35}>a</T>
      <T x={931} y={15} size={35}>b</T>
      <T x={168} y={476} size={35}>c</T>
      <T x={931} y={483} size={35}>d</T>
      <T x={172} y={1078} size={35}>e</T>

      <ManhattanText dx={0} dy={0} sig={<T x={688} y={93} size={18.5} italic>NECTIN2</T>} />
      <ManhattanText dx={772} dy={0} />
      <ManhattanText dx={0} dy={463} />

      <YLabel x={952} y={655} />
      <T x={1669} y={654} a="center" rot={-90} size={19.5} color="#222">Recombination Rate (cM/Mb)</T>
      <T x={1239.5} y={543} a="center" size={26}>rs2199576</T>
      <div style={{ position: "absolute", left: 1013.5, top: 521, width: 119, height: 179, boxSizing: "border-box", background: "#f6f6f6", border: "1.5px solid #111" }} />
      <div style={{ position: "absolute", left: 1021, top: 529, width: 9, height: 15, background: "#8a24b0", clipPath: "polygon(50% 0,100% 50%,50% 100%,0 50%)" }} />
      <T x={1037.5} y={536} size={14.5}>LD Ref Var</T>
      {legendRows.map((r) => (
        <React.Fragment key={r.label}>
          <div style={{ position: "absolute", left: 1020.5, top: r.y - 5, width: 10, height: 10, borderRadius: 5, boxSizing: "border-box", background: r.color, border: "0.7px solid #444" }} />
          <T x={1037.5} y={r.y} size={14.5}>{r.label}</T>
        </React.Fragment>
      ))}

      {geneTrackD.map((g) => (
        <T key={g.name} x={g.labelX} y={853 + g.row * 46.7} a="center" size={16} italic><GeneName name={g.name} /></T>
      ))}

      <T x={1314} y={1095} a="center" size={26.2}>Position on Chromosome 19</T>
      <T x={283} y={1152} a="right">Scale</T>
      <T x={283} y={1182} a="right">chr19:</T>
      <T x={677} y={1150} a="right">50 kb</T>
      <T x={1368} y={1144}>hg19</T>
      {rulerLabels.map((t, i) => (
        <T key={t} x={kbToPx(rulerKb[i + 1]) - 3} y={1182} a="right">{t}</T>
      ))}
      <T x={1015} y={1210} a="center">LD proxies for rs2199576</T>
      {proxies.map((p, i) => (
        <T key={p.id} x={kbToPx(p.kb) - 4} y={1237 + i * 29.3} a="right" color={p.color}>{p.id}</T>
      ))}
      <T x={6} y={1435}>Layered H3K27Ac</T>
      <T x={515} y={1415} size={24.18}>H3K27Ac Mark (Often Found Near Active Regulatory Elements) on 7 cell lines from ENCODE</T>
      <T x={575} y={1498} size={24.1} color={NAVY}>UCSC Genes (RefSeq, GenBank, CCDS, Rfam, tRNAs &amp; Comparative Genomics)</T>
      <T x={284} y={1524} a="right">CBLC</T>
      <T x={284} y={1553} a="right" color={NAVY}>CBLC</T>
      <T x={525} y={1524} a="right">BCAM</T>
      <T x={525} y={1553} a="right">BCAM</T>
      <T x={1021.5} y={1524} a="right" color={NAVY}>NECTIN2</T>
      <T x={1021.5} y={1553} a="right">NECTIN2</T>
      <T x={1623} y={1524} a="right" color={NAVY}>TOMM40</T>
      <T x={1623} y={1582} a="right" color={NAVY}>TOMM40</T>
      <T x={1623} y={1611} a="right" color="#6a6aa8">TOMM40</T>
      <T x={1623} y={1640} a="right" color={NAVY}>TOMM40</T>
      <T x={488} y={1672} size={24.15}>Gene Expression in 54 tissues from GTEx RNA-seq of 17382 samples, 948 donors (V8, Aug 2019)</T>
      <T x={284} y={1722} a="right">CBLC</T>
      <T x={525} y={1802} a="right">BCAM</T>
      <T x={1021.5} y={1721} a="right">NECTIN2</T>
      <T x={1501} y={1830} a="right">CTB-129P6.4</T>
      <T x={1616} y={1881} a="right">TOMM40</T>
    </div>
  );
}
